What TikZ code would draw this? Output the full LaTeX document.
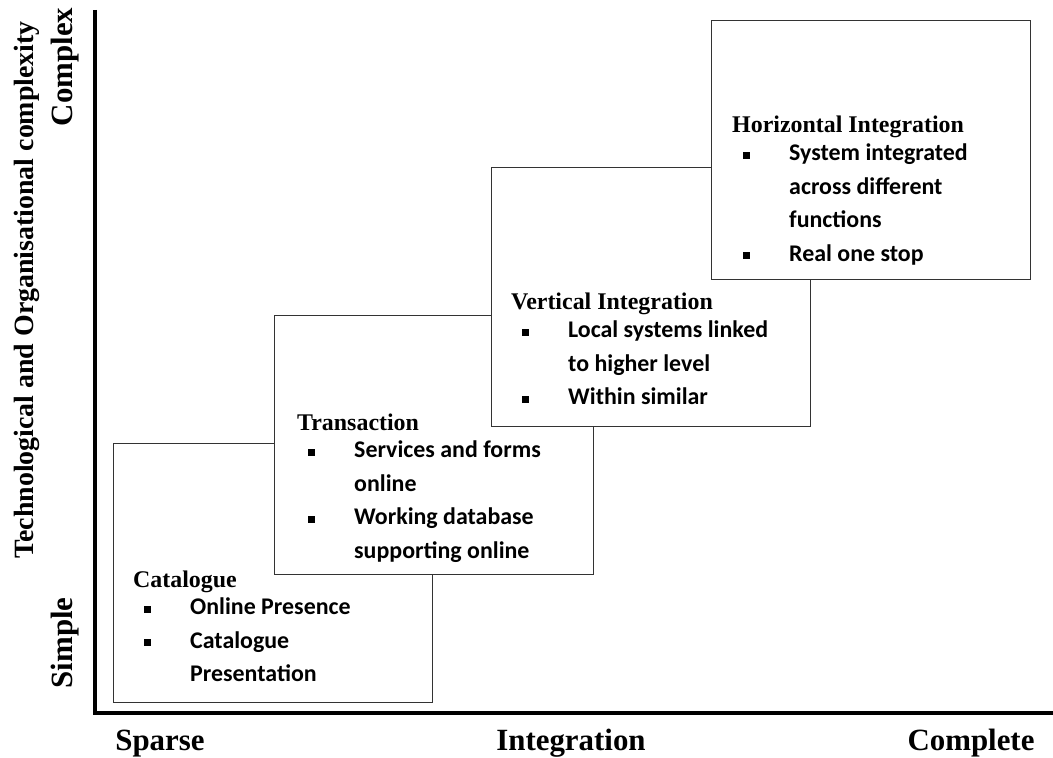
\documentclass[tikz,border=0pt]{standalone}
\usepackage{fontspec}
\setmainfont{Liberation Serif}
\newfontfamily\calibri{Carlito}
\usepackage{tikz}
\usetikzlibrary{positioning}
\tikzset{
x=1bp, y=-1bp, % one unit per pixel, y runs downwards
axis/.style={line width=4.6bp, line join=miter}, % the two thick axes
stage/.style={draw=black!80, line width=1bp, fill=white, anchor=north west,
  minimum width=319bp, minimum height=259bp, inner sep=0pt}, % one stage box
stagetext/.style={anchor=base west, inner sep=0pt,
  font=\fontsize{24}{33.5}\selectfont\bfseries}, % title and bullets of a stage
axislabel/.style={anchor=base, inner sep=0pt,
  font=\fontsize{31}{36}\selectfont\bfseries}, % words along the axes
}
\newcommand{\sqitem}[1]{\makebox[57bp][l]{\hspace*{11bp}\rule[2bp]{7bp}{7bp}}{\calibri #1}}
\newcommand{\sqcont}[1]{\hspace*{57bp}{\calibri #1}}

\begin{document}
\begin{tikzpicture}
    \useasboundingbox (0,0) rectangle (1053,758);

    % axes
    \coordinate (origin) at (95,713);
    \coordinate (ytop) at (95,10);
    \coordinate (xend) at (1053,713);
    \draw[axis] (ytop) -- (origin) -- (xend);

    % stages, each one lying on top of the one before
    \node[stage] (cat) at (113,443) {};
    \node[stagetext] (cattext) at (133,587) {\begin{tabular}[t]{@{}l@{}}
        Catalogue\\[-5.5bp]
        \sqitem{Online Presence}\\
        \sqitem{Catalogue}\\
        \sqcont{Presentation}
    \end{tabular}};

    \node[stage] (trans) at (274,315) {};
    \node[stagetext] (transtext) at (297,430) {\begin{tabular}[t]{@{}l@{}}
        Transaction\\[-5.5bp]
        \sqitem{Services and forms}\\
        \sqcont{online}\\
        \sqitem{Working database}\\
        \sqcont{supporting online}
    \end{tabular}};

    \node[stage] (vert) at (491,167) {};
    \node[stagetext] (verttext) at (511,309) {\begin{tabular}[t]{@{}l@{}}
        Vertical Integration\\[-4.5bp]
        \sqitem{Local systems linked}\\
        \sqcont{to higher level}\\
        \sqitem{Within similar}
    \end{tabular}};

    \node[stage] (horiz) at (711,20) {};
    \node[stagetext] (horiztext) at (732,132) {\begin{tabular}[t]{@{}l@{}}
        Horizontal Integration\\[-4.5bp]
        \sqitem{System integrated}\\
        \sqcont{across different}\\
        \sqcont{functions}\\
        \sqitem{Real one stop}
    \end{tabular}};

    % axis labels
    \node[axislabel, rotate=90, font=\fontsize{28}{32}\selectfont\bfseries] (ylabel) at (33,290) {Technological and Organisational complexity};
    \node[axislabel, rotate=90] (complex) at (72,67) {Complex};
    \node[axislabel, rotate=90] (simple) at (72,643) {Simple};
    \node[axislabel] (sparse) at (160,750) {Sparse};
    \node[axislabel] (integ) at (571,750) {Integration};
    \node[axislabel] (complete) at (971,750) {Complete};
\end{tikzpicture}
\end{document}
